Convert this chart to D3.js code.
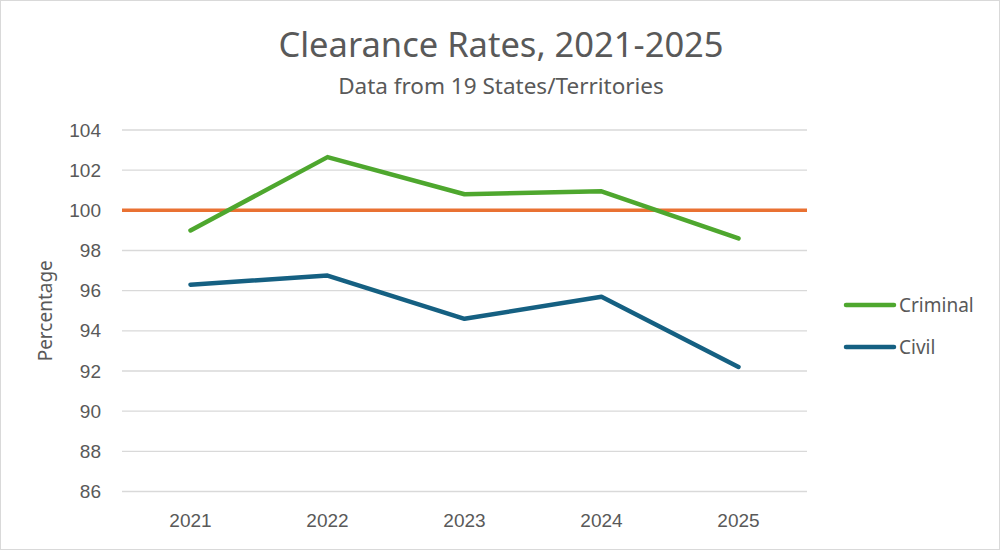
<!DOCTYPE html>
<html>
<head>
<meta charset="utf-8">
<script src="https://cdn.jsdelivr.net/npm/d3@7"></script>
<style>
  body { margin: 0; background: #fff; }
  svg { display: block; }
</style>
</head>
<body>
<svg id="chart" width="1000" height="550"></svg>
<script>
// chart data
var years = ["2021", "2022", "2023", "2024", "2025"];
var criminal = [99.0, 102.65, 100.8, 100.95, 98.6];
var civil = [96.3, 96.75, 94.6, 95.7, 92.2];
var target = 100;
var yTicks = [86, 88, 90, 92, 94, 96, 98, 100, 102, 104];

var series = [
  { name: "Criminal", values: criminal, color: "#4ea72e" },
  { name: "Civil", values: civil, color: "#156082" }
];

var svg = d3.select("#chart");
var textColor = "#595959";

// outer border
svg.append("rect")
  .attr("x", 0.5).attr("y", 0.5)
  .attr("width", 999).attr("height", 549)
  .attr("fill", "#fff").attr("stroke", "#d9d9d9");

// plot box (note: "top" is taken by window.top, so use other names)
var plotLeft = 122, plotRight = 807, plotTop = 130, plotBottom = 491.5;

var x = d3.scaleBand().domain(years).range([plotLeft, plotRight]);
var y = d3.scaleLinear().domain([86, 104]).range([plotBottom, plotTop]);

// gridlines
svg.append("g").selectAll("line")
  .data(yTicks)
  .join("line")
  .attr("x1", plotLeft).attr("x2", plotRight)
  .attr("y1", function(d){ return y(d); })
  .attr("y2", function(d){ return y(d); })
  .attr("stroke", "#d9d9d9")
  .attr("stroke-width", 1.3);

// y tick labels
svg.append("g").selectAll("text")
  .data(yTicks)
  .join("text")
  .attr("x", 101)
  .attr("y", function(d){ return y(d); })
  .attr("dy", "0.35em")
  .attr("text-anchor", "end")
  .attr("font-family", "Liberation Sans, Arial, sans-serif")
  .attr("font-size", 19)
  .attr("fill", textColor)
  .text(function(d){ return d; });

// x tick labels
svg.append("g").selectAll("text")
  .data(years)
  .join("text")
  .attr("x", function(d){ return x(d) + x.bandwidth() / 2; })
  .attr("y", 527)
  .attr("text-anchor", "middle")
  .attr("font-family", "Liberation Sans, Arial, sans-serif")
  .attr("font-size", 19)
  .attr("fill", textColor)
  .text(function(d){ return d; });

// 100% reference line
svg.append("line")
  .attr("x1", plotLeft).attr("x2", plotRight)
  .attr("y1", y(target)).attr("y2", y(target))
  .attr("stroke", "#e97132")
  .attr("stroke-width", 3.5);

var line = d3.line()
  .x(function(d, i){ return x(years[i]) + x.bandwidth() / 2; })
  .y(function(d){ return y(d); });

svg.append("g").selectAll("path")
  .data(series)
  .join("path")
  .attr("d", function(s){ return line(s.values); })
  .attr("fill", "none")
  .attr("stroke", function(s){ return s.color; })
  .attr("stroke-width", 4.5)
  .attr("stroke-linecap", "round")
  .attr("stroke-linejoin", "round");

// titles
svg.append("text")
  .attr("x", 501).attr("y", 57)
  .attr("text-anchor", "middle")
  .attr("font-family", "Noto Sans, sans-serif")
  .attr("font-size", 34.5)
  .attr("fill", textColor)
  .text("Clearance Rates, 2021-2025");

svg.append("text")
  .attr("x", 501).attr("y", 94)
  .attr("text-anchor", "middle")
  .attr("font-family", "Noto Sans, sans-serif")
  .attr("font-size", 22.5)
  .attr("fill", textColor)
  .text("Data from 19 States/Territories");

// y axis title
svg.append("text")
  .attr("transform", "translate(52," + ((plotTop + plotBottom) / 2) + ") rotate(-90)")
  .attr("text-anchor", "middle")
  .attr("font-family", "Noto Sans, sans-serif")
  .attr("font-size", 19)
  .attr("fill", textColor)
  .text("Percentage");

// legend
var legend = svg.append("g").selectAll("g")
  .data(series)
  .join("g")
  .attr("transform", function(s, i){ return "translate(846," + (305 + i * 42) + ")"; });

legend.append("line")
  .attr("x1", 0).attr("x2", 48)
  .attr("stroke", function(s){ return s.color; })
  .attr("stroke-width", 4.5)
  .attr("stroke-linecap", "round");

legend.append("text")
  .attr("x", 53)
  .attr("dy", "0.36em")
  .attr("font-family", "Noto Sans, sans-serif")
  .attr("font-size", 19)
  .attr("fill", textColor)
  .text(function(s){ return s.name; });
</script>
</body>
</html>
